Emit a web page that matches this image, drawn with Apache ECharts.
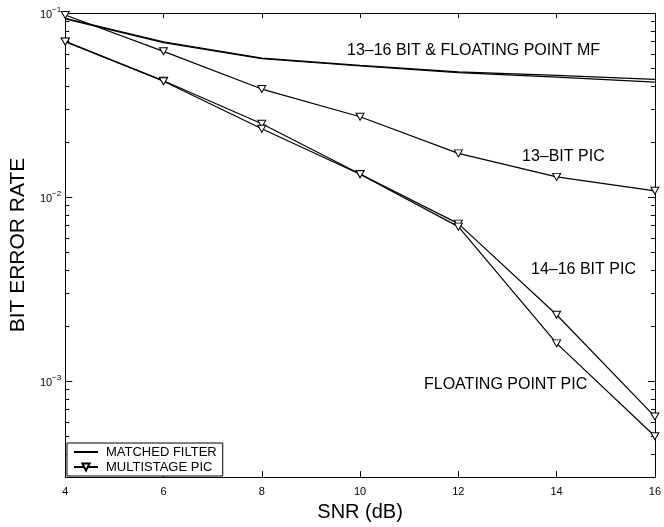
<!DOCTYPE html>
<html>
<head>
<meta charset="utf-8">
<script src="https://cdn.jsdelivr.net/npm/echarts@6/dist/echarts.min.js"></script>
<style>html,body{margin:0;padding:0;background:#fff}#c{width:664px;height:527px}</style>
</head>
<body>
<div id="c"></div>
<script>
const snr = [4, 6, 8, 10, 12, 14, 16];
const xTicks = [4, 6, 8, 10, 12, 14, 16];
const mfA = [0.0936, 0.0698, 0.0569, 0.0519, 0.0478, 0.0458, 0.0436];
const mfB = [0.0930, 0.0690, 0.0565, 0.0515, 0.0474, 0.0448, 0.0421];
const pic13 = [0.0975, 0.0619, 0.0386, 0.0273, 0.01725, 0.01286, 0.0108];
const pic1416 = [0.0701, 0.0428, 0.0250, 0.01334, 0.00716, 0.00229, 0.00064];
const picFloat = [0.0699, 0.0426, 0.0235, 0.01330, 0.00690, 0.00160, 0.00050];
const minorTickValues = [4e-4, 5e-4, 6e-4, 7e-4, 8e-4, 9e-4,
  2e-3, 3e-3, 4e-3, 5e-3, 6e-3, 7e-3, 8e-3, 9e-3,
  2e-2, 3e-2, 4e-2, 5e-2, 6e-2, 7e-2, 8e-2, 9e-2];
const legendNames = ['MATCHED FILTER', 'MULTISTAGE PIC'];
const annotations = ['13–16 BIT & FLOATING POINT MF', '13–BIT PIC', '14–16 BIT PIC', 'FLOATING POINT PIC'];

const FONT = '"Liberation Sans", Arial, Helvetica, sans-serif';
const pairs = arr => snr.map((x, i) => [x, arr[i]]);

function mfSeries(arr) {
  return {
    name: legendNames[0], type: 'line', data: pairs(arr), symbol: 'none',
    lineStyle: { color: '#000', width: 1.2 }, itemStyle: { color: '#000' },
    emphasis: { disabled: true }, silent: true
  };
}
function picSeries(arr) {
  return {
    name: legendNames[1], type: 'line', data: pairs(arr), symbol: 'triangle', symbolRotate: 180,
    symbolSize: [8, 7], showAllSymbol: true,
    lineStyle: { color: '#000', width: 1.2 },
    itemStyle: { color: '#fff', borderColor: '#000', borderWidth: 1 },
    emphasis: { disabled: true }, silent: true
  };
}

const chart = echarts.init(document.getElementById('c'), null, { renderer: 'canvas' });
const yMin = 3e-4, yMax = 0.1;
chart.setOption({
  animation: false,
  backgroundColor: '#fff',
  grid: { left: 61, right: 8, top: 13, bottom: 45 },
  legend: {
    data: [
      { name: legendNames[0], itemStyle: { color: 'rgba(0,0,0,0)', borderColor: 'rgba(0,0,0,0)', borderWidth: 0 } },
      { name: legendNames[1] }
    ],
    orient: 'vertical', left: 67, top: 443,
    backgroundColor: '#fff', borderColor: '#000', borderWidth: 1, borderRadius: 0,
    padding: [2, 6, 2, 6], itemGap: 1, itemWidth: 24, itemHeight: 9,
    textStyle: { fontFamily: FONT, fontSize: 13, lineHeight: 14, color: '#000', padding: [0, 0, 0, 3] },
    selectedMode: false
  },
  xAxis: [{
    type: 'value', min: 4, max: 16, interval: 2, position: 'bottom',
    name: 'SNR (dB)', nameLocation: 'middle', nameGap: 21,
    nameTextStyle: { fontFamily: FONT, fontSize: 20, color: '#000' },
    axisLine: { show: true, onZero: false, lineStyle: { color: '#000', width: 1 } },
    axisTick: { show: true, inside: true, length: 6, lineStyle: { color: '#000' } },
    axisLabel: { fontFamily: FONT, fontSize: 11, color: '#000', margin: 9,
      formatter: v => xTicks.includes(v) ? String(v) : '' },
    splitLine: { show: false }
  }, {
    type: 'value', min: 4, max: 16, interval: 2, position: 'top',
    axisLine: { show: true, onZero: false, lineStyle: { color: '#000', width: 1 } },
    axisTick: { show: true, inside: true, length: 5, lineStyle: { color: '#000' } },
    axisLabel: { show: false }, splitLine: { show: false }
  }],
  yAxis: [{
    type: 'log', logBase: 10, min: yMin, max: yMax, position: 'left',
    name: 'BIT ERROR RATE', nameLocation: 'middle', nameGap: 34,
    nameTextStyle: { fontFamily: FONT, fontSize: 21, color: '#000' },
    axisLine: { show: true, onZero: false, lineStyle: { color: '#000', width: 1 } },
    axisTick: { show: true, inside: true, length: 7, lineStyle: { color: '#000' } },
    axisLabel: {
      margin: 4, color: '#000',
      formatter: v => {
        const e = Math.log10(v);
        if (Math.abs(e - Math.round(e)) > 1e-6) return '';
        return '{b|10}{s|−' + Math.abs(Math.round(e)) + '}';
      },
      rich: {
        b: { fontFamily: FONT, fontSize: 11, color: '#000', verticalAlign: 'bottom' },
        s: { fontFamily: FONT, fontSize: 8, color: '#000', verticalAlign: 'bottom', padding: [0, 0, 7, 0] }
      }
    },
    splitLine: { show: false }
  }, {
    type: 'log', logBase: 10, min: yMin, max: yMax, position: 'right',
    axisLine: { show: true, onZero: false, lineStyle: { color: '#000', width: 1 } },
    axisTick: { show: true, inside: true, length: 7, lineStyle: { color: '#000' } },
    axisLabel: { show: false }, splitLine: { show: false }
  }],
  series: [
    mfSeries(mfA), mfSeries(mfB),
    picSeries(pic13), picSeries(pic1416), picSeries(picFloat),
    {
      type: 'custom', name: 'minorTicks', silent: true, clip: false,
      data: minorTickValues.map(v => [4, v]),
      renderItem: (params, api) => {
        const v = api.value(1);
        const pL = api.coord([4, v]);
        const pR = api.coord([16, v]);
        const y = Math.round(pL[1]) + 0.5;
        return {
          type: 'group', children: [
            { type: 'line', shape: { x1: pL[0], y1: y, x2: pL[0] + 4, y2: y }, style: { stroke: '#000', lineWidth: 1 } },
            { type: 'line', shape: { x1: pR[0], y1: y, x2: pR[0] - 4, y2: y }, style: { stroke: '#000', lineWidth: 1 } }
          ]
        };
      }
    }
  ],
  graphic: [
    { type: 'text', left: 347, top: 43, style: { text: annotations[0], font: '16px ' + FONT, fill: '#000' } },
    { type: 'text', left: 522, top: 149, style: { text: annotations[1], font: '16px ' + FONT, fill: '#000' } },
    { type: 'text', left: 531, top: 262, style: { text: annotations[2], font: '16px ' + FONT, fill: '#000' } },
    { type: 'text', left: 424, top: 377, style: { text: annotations[3], font: '16px ' + FONT, fill: '#000' } }
  ]
});
</script>
</body>
</html>
